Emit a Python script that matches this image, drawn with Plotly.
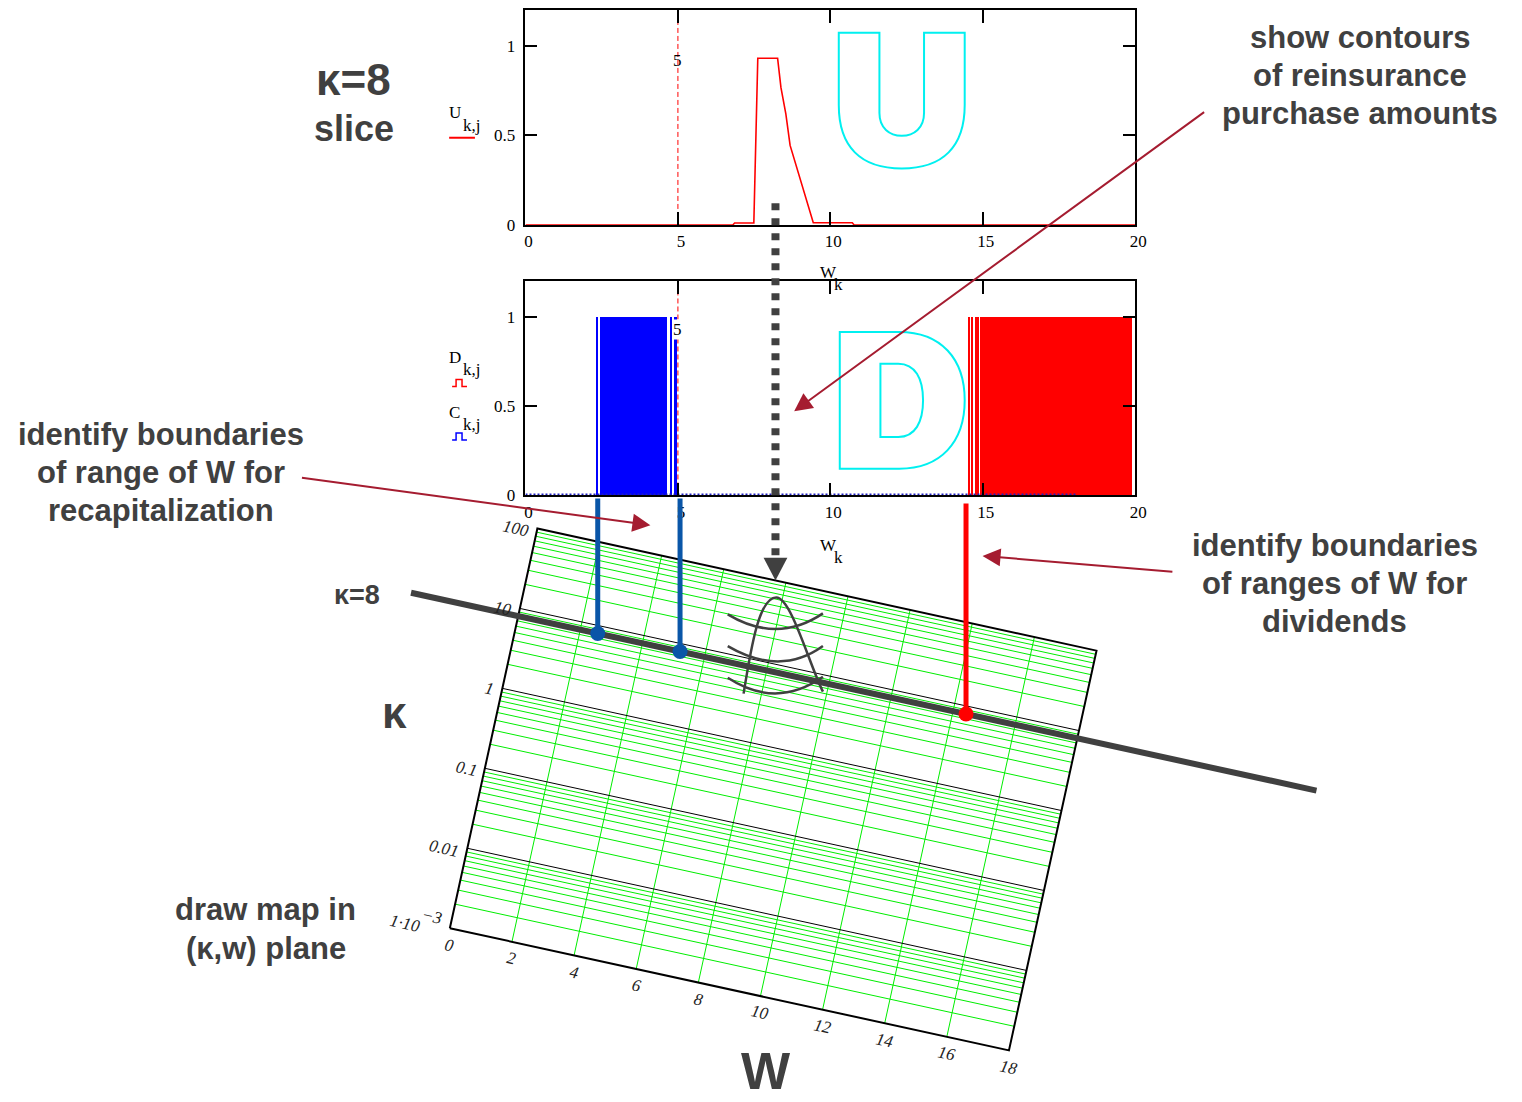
import numpy as np
import plotly.graph_objects as go

FIG_W, FIG_H = 1522, 1102

# ---- U_{k,j}: reinsurance purchase along the kappa = 8 slice ----
u_w = [0.0, 6.80, 6.86, 7.49, 7.62, 8.27, 8.38, 8.54, 8.68, 9.01, 9.30, 9.44, 10.72, 10.78, 20.0]
u_val = [0.0, 0.0, 0.011, 0.011, 0.93, 0.93, 0.766, 0.62, 0.444, 0.26, 0.10, 0.012, 0.012, 0.0, 0.0]

# ---- C_{k,j} (recapitalization) and D_{k,j} (dividends): W intervals where the indicator is 1 ----
c_start = [2.33, 2.45, 4.75, 4.90]
c_end = [2.37, 4.67, 4.83, 4.98]
d_start = [14.52, 14.64, 14.75, 14.94]
d_end = [14.59, 14.71, 14.89, 19.90]
sample_w_max = 18.1  # the zero level of both indicators is sampled up to here

w_ticks = [0, 5, 10, 15, 20]
w_range = [0, 20]
y_ticks = [0, 0.5, 1]
y_ticktext = ["0", "0.5", "1"]
y_range = [0, 1.2]
w_marker = 5
marker_label_y = [0.92, 0.93]

# ---- (kappa, W) map ----
map_w_ticks = [0, 2, 4, 6, 8, 10, 12, 14, 16, 18]
map_kappa_decades = [1e-3, 1e-2, 1e-1, 1, 10, 100]
map_kappa_labels = [None, "0.01", "0.1", "1", "10", "100"]
kappa_slice = 8
slice_w_span = [-3.45, 25.7]
recap_w = [2.37, 5.07]
dividend_w = [14.45]
contour_w = 8.2

# ---- page geometry (pixels) ----
P_LEFT, P_RIGHT = 529, 1144
TOP1 = (10, 227)
TOP2 = (284, 500)

DARK = "#404040"
CRIMSON = "#a51c30"
BLUE = "#0a56a8"
GREEN = "#00ee00"
CYAN = "#00f0f0"
SERIF = "Liberation Serif"
SANS = "Liberation Sans"


def plot_x(w):
    return P_LEFT + (w - w_range[0]) / (w_range[1] - w_range[0]) * (P_RIGHT - P_LEFT)


def plot_y(v, panel):
    top, bottom = panel
    return bottom - (v - y_range[0]) / (y_range[1] - y_range[0]) * (bottom - top)


# oblique projection of the (W, log kappa) plane
MAP_ORIGIN = (452.7, 936.7)
MAP_EW = (31.33, 6.85)
MAP_EL = (17.66, -80.68)


def map_px(w, kappa):
    l = np.log10(kappa) - np.log10(map_kappa_decades[0])
    return (MAP_ORIGIN[0] + w * MAP_EW[0] + l * MAP_EL[0],
            MAP_ORIGIN[1] + w * MAP_EW[1] + l * MAP_EL[1])


def slice_hit(x, kappa):
    """Point of the constant-kappa line directly below screen column x."""
    l = np.log10(kappa) - np.log10(map_kappa_decades[0])
    w = (x - MAP_ORIGIN[0] - l * MAP_EL[0]) / MAP_EW[0]
    return map_px(w, kappa)


def dom_x(a, b):
    return [a / FIG_W, b / FIG_W]


def dom_y(top, bottom):
    return [1 - bottom / FIG_H, 1 - top / FIG_H]


fig = go.Figure()

# ---- top panel: U ----
fig.add_trace(go.Scatter(x=[w_marker, w_marker], y=y_range, mode="lines",
                         line=dict(color="red", width=1, dash="5px,3px"),
                         xaxis="x", yaxis="y", hoverinfo="skip"))
fig.add_trace(go.Scatter(x=u_w, y=u_val, mode="lines", line=dict(color="red", width=1.6),
                         xaxis="x", yaxis="y", hoverinfo="skip"))

# ---- second panel: C (blue) and D (red) ----
fig.add_trace(go.Bar(x=[(a + b) / 2 for a, b in zip(c_start, c_end)], y=[1] * len(c_start),
                     width=[b - a for a, b in zip(c_start, c_end)],
                     marker=dict(color="#0000ff", line=dict(width=0)),
                     xaxis="x2", yaxis="y2", hoverinfo="skip"))
fig.add_trace(go.Bar(x=[(a + b) / 2 for a, b in zip(d_start, d_end)], y=[1] * len(d_start),
                     width=[b - a for a, b in zip(d_start, d_end)],
                     marker=dict(color="#ff0000", line=dict(width=0)),
                     xaxis="x2", yaxis="y2", hoverinfo="skip"))
fig.add_trace(go.Scatter(x=[0, sample_w_max], y=[0.006, 0.006], mode="lines",
                         line=dict(color="#2020c0", width=2, dash="2px,2px"),
                         xaxis="x2", yaxis="y2", hoverinfo="skip"))
fig.add_trace(go.Scatter(x=[w_marker, w_marker], y=y_range, mode="lines",
                         line=dict(color="red", width=1, dash="5px,3px"),
                         xaxis="x2", yaxis="y2", hoverinfo="skip"))

# ---- map grid ----
k_lo, k_hi = map_kappa_decades[0], map_kappa_decades[-1]
w_lo, w_hi = map_w_ticks[0], map_w_ticks[-1]
gx, gy = [], []
for w in map_w_ticks[1:-1]:
    (x0, y0), (x1, y1) = map_px(w, k_lo), map_px(w, k_hi)
    gx += [x0, x1, None]
    gy += [y0, y1, None]
for d in map_kappa_decades[:-1]:
    for m in range(2, 10):
        (x0, y0), (x1, y1) = map_px(w_lo, m * d), map_px(w_hi, m * d)
        gx += [x0, x1, None]
        gy += [y0, y1, None]
fig.add_trace(go.Scatter(x=gx, y=gy, mode="lines", line=dict(color=GREEN, width=1),
                         xaxis="x3", yaxis="y3", hoverinfo="skip"))

bx, by = [], []
for d in map_kappa_decades[1:-1]:
    (x0, y0), (x1, y1) = map_px(w_lo, d), map_px(w_hi, d)
    bx += [x0, x1, None]
    by += [y0, y1, None]
fig.add_trace(go.Scatter(x=bx, y=by, mode="lines", line=dict(color="black", width=1),
                         xaxis="x3", yaxis="y3", hoverinfo="skip"))

corners = [map_px(w_lo, k_lo), map_px(w_hi, k_lo), map_px(w_hi, k_hi), map_px(w_lo, k_hi), map_px(w_lo, k_lo)]
fig.add_trace(go.Scatter(x=[c[0] for c in corners], y=[c[1] for c in corners], mode="lines",
                         line=dict(color="black", width=2),
                         xaxis="x3", yaxis="y3", hoverinfo="skip"))

# kappa = 8 slice across the map
(sx0, sy0), (sx1, sy1) = map_px(slice_w_span[0], kappa_slice), map_px(slice_w_span[1], kappa_slice)
fig.add_trace(go.Scatter(x=[sx0, sx1], y=[sy0, sy1], mode="lines", line=dict(color=DARK, width=6),
                         xaxis="x3", yaxis="y3", hoverinfo="skip"))

# boundaries dropped from the W axis onto the slice
for ws, color, y_top in [(recap_w, BLUE, 503), (dividend_w, "#ff0000", 508)]:
    for w in ws:
        x = plot_x(w)
        hx, hy = slice_hit(x, kappa_slice)
        fig.add_trace(go.Scatter(x=[x, hx], y=[y_top, hy], mode="lines", line=dict(color=color, width=5),
                                 xaxis="x3", yaxis="y3", hoverinfo="skip"))
        fig.add_trace(go.Scatter(x=[hx], y=[hy], mode="markers", marker=dict(color=color, size=15),
                                 xaxis="x3", yaxis="y3", hoverinfo="skip"))

# dotted arrow from the U peak down to the map edge
ax_x = plot_x(contour_w)
tip_x, tip_y = slice_hit(ax_x, k_hi)
fig.add_trace(go.Scatter(x=[ax_x, ax_x], y=[205, tip_y - 21], mode="lines",
                         line=dict(color=DARK, width=8, dash="7px,8px"),
                         xaxis="x3", yaxis="y3", hoverinfo="skip"))

shapes = [
    dict(type="path", xref="x3", yref="y3", layer="above",
         path=f"M{ax_x - 12},{tip_y - 23} L{ax_x + 12},{tip_y - 23} L{ax_x},{tip_y} Z",
         fillcolor=DARK, line=dict(width=0)),
    # legend glyphs next to the panels
    dict(type="path", xref="x3", yref="y3", path="M452,139 H478", line=dict(color="red", width=2)),
    dict(type="path", xref="x3", yref="y3", path="M455,390 H459 V383 H465 V390 H470",
         line=dict(color="red", width=1.5)),
    dict(type="path", xref="x3", yref="y3", path="M455,444 H459 V437 H465 V444 H470",
         line=dict(color="#0000ff", width=1.5)),
    # outlined panel letters U and D
    dict(type="path", xref="x3", yref="y3", layer="above", line=dict(color=CYAN, width=2),
         path=("M845,33 H886 V114 C886,129 896,137 908.5,137 C921,137 931,129 931,114 V33 H972 V106 "
               "C972,148 950,170 908.5,170 C867,170 845,148 845,106 Z")),
    dict(type="path", xref="x3", yref="y3", layer="above", line=dict(color=CYAN, width=2),
         path=("M846,335 H906 C948,335 972,362 972,404 C972,446 948,473 906,473 H846 Z "
               "M887,367 H905 C922,367 930,382 930,404 C930,426 922,441 905,441 H887 Z")),
]
# sketched value surface with its contour levels
for p in ["M749,700 C757,650 765,603 782,603 C797,603 815,670 829,698",
          "M733,620 Q783,650 829,619",
          "M733,652 Q786,683 829,652",
          "M733,684 Q782,716 829,683"]:
    shapes.append(dict(type="path", xref="x3", yref="y3", path=p, layer="above",
                       line=dict(color=DARK, width=2.5)))

annotations = []


def text(x, y, s, size, family=SANS, color=DARK, bold=False, italic=False, **kw):
    annotations.append(dict(x=x, y=y, xref="x3", yref="y3", text=s, showarrow=False,
                            font=dict(family=family, size=size, color=color,
                                      weight="bold" if bold else "normal",
                                      style="italic" if italic else "normal"), **kw))


def arrow(tail, head):
    annotations.append(dict(x=head[0], y=head[1], ax=tail[0], ay=tail[1], xref="x3", yref="y3",
                            axref="x3", ayref="y3", text="", showarrow=True, arrowhead=2,
                            arrowsize=1.8, arrowwidth=2, arrowcolor=CRIMSON, standoff=0))


# marker labels on the W = 5 lines
text(plot_x(w_marker), plot_y(marker_label_y[0], TOP1), "5", 17, family=SERIF, color="black")
text(plot_x(w_marker), plot_y(marker_label_y[1], TOP2), "5", 17, family=SERIF, color="black",
     bgcolor="white", borderpad=0)


def subscripted(x, y, base, sub, size=17):
    text(x, y, base, size, family=SERIF, color="black", xanchor="left", borderpad=0)
    text(x + 0.82 * size, y + 0.72 * size, sub, size, family=SERIF, color="black", xanchor="left",
         borderpad=0)


# series / axis names
subscripted(451, 114, "U", "k,j")
subscripted(451, 361, "D", "k,j")
subscripted(451, 416, "C", "k,j")
subscripted(825, 275, "W", "k")
subscripted(825, 550, "W", "k")

# map tick labels, rotated along the W axis
angle = float(np.degrees(np.arctan2(MAP_EW[1], MAP_EW[0])))
for w in map_w_ticks:
    x, y = map_px(w, k_lo)
    text(x, y + 17, str(w), 17, family=SERIF, color="#222222", italic=True, textangle=angle)
for k, lab in zip(map_kappa_decades, map_kappa_labels):
    x, y = map_px(w_lo, k)
    if lab is None:
        text(x - 27, y - 5, "1·10", 17, family=SERIF, color="#222222", italic=True, textangle=angle,
             xanchor="right", borderpad=0)
        text(x - 18, y - 12, "−3", 17, family=SERIF, color="#222222", italic=True, textangle=angle,
             borderpad=0)
    else:
        text(x - 4, y, lab, 17, family=SERIF, color="#222222", italic=True, textangle=angle,
             xanchor="right")

# headings and notes
text(356, 80, "κ=8", 44, bold=True)
text(356, 130, "slice", 36, bold=True)
text(359, 600, "κ=8", 27, bold=True)
text(397, 719, "κ", 44, bold=True)
text(772, 1081, "W", 52, bold=True)
for i, s in enumerate(["show contours", "of reinsurance", "purchase amounts"]):
    text(1371, 38 + 38.5 * i, s, 31, bold=True)
for i, s in enumerate(["identify boundaries", "of ranges of W for", "dividends"]):
    text(1345, 550 + 38.5 * i, s, 31, bold=True)
for i, s in enumerate(["identify boundaries", "of range of W for", "recapitalization"]):
    text(161, 438 + 38.5 * i, s, 31, bold=True)
for i, s in enumerate(["draw map in", "(κ,w) plane"]):
    text(267, 918 + 39 * i, s, 31, bold=True)

arrow((1215, 112), (800, 415))
arrow((302, 482), (655, 530))
arrow((1183, 577), (990, 561))

tick_font = dict(family=SERIF, size=17, color="black")
common_x = dict(range=w_range, tickvals=w_ticks, ticks="inside", ticklen=13, tickwidth=1.5,
                tickcolor="black", showline=True, linecolor="black", linewidth=1.5, mirror="ticks",
                showgrid=False, zeroline=False, tickfont=tick_font, ticklabelshift=3, fixedrange=True,
                domain=dom_x(P_LEFT, P_RIGHT))
common_y = dict(range=y_range, tickvals=y_ticks, ticktext=y_ticktext, ticks="inside", ticklen=12,
                tickwidth=1.5, tickcolor="black", showline=True, linecolor="black", linewidth=1.5,
                mirror="ticks", showgrid=False, zeroline=False, tickfont=tick_font, ticklabelstandoff=5,
                fixedrange=True)

fig.update_layout(
    width=FIG_W, height=FIG_H, autosize=False,
    margin=dict(l=0, r=0, t=0, b=0),
    paper_bgcolor="white", plot_bgcolor="rgba(0,0,0,0)",
    showlegend=False, barmode="overlay", bargap=0,
    xaxis=dict(**common_x, anchor="y"),
    yaxis=dict(**common_y, domain=dom_y(*TOP1), anchor="x"),
    xaxis2=dict(**common_x, anchor="y2"),
    yaxis2=dict(**common_y, domain=dom_y(*TOP2), anchor="x2"),
    xaxis3=dict(range=[0, FIG_W], domain=[0, 1], visible=False, fixedrange=True, anchor="y3"),
    yaxis3=dict(range=[FIG_H, 0], domain=[0, 1], visible=False, fixedrange=True, anchor="x3"),
    shapes=shapes,
    annotations=annotations,
)

fig.write_html("out.html")
